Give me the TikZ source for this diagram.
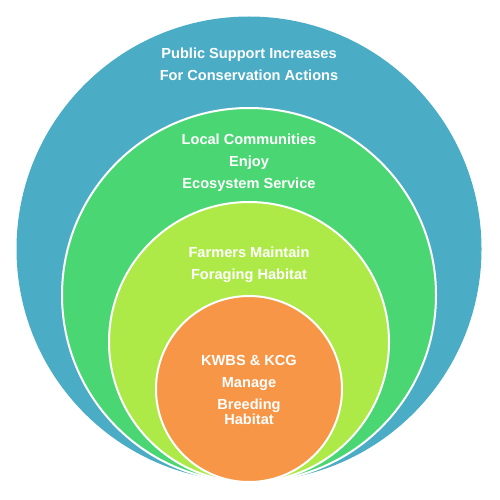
\documentclass[tikz,border=0pt]{standalone}
\usepackage{fontspec}
\setmainfont{Liberation Sans}
\definecolor{cblue}{HTML}{4BACC6}
\definecolor{cgreen}{HTML}{4AD673}
\definecolor{clime}{HTML}{AEEA47}
\definecolor{corange}{HTML}{F79646}
\begin{document}
\begin{tikzpicture}[x=1pt,y=-1pt,
  ring/.style={draw=white,line width=2pt},
  lbl/.style={text=white,font=\fontsize{14.6}{15.5}\selectfont\bfseries,align=center,inner sep=0pt}]
\useasboundingbox (0,0) rectangle (500,500);
\fill[cblue] (249,249) circle[radius=232.5];
\filldraw[ring,fill=cgreen] (249,295) circle[radius=187];
\filldraw[ring,fill=clime] (249,342) circle[radius=140];
\filldraw[ring,fill=corange] (249,389) circle[radius=93];
\node[lbl] (outer) at (249,64) {Public Support Increases\\[6.3pt]For Conservation Actions};
\node[lbl] (community) at (249,162.5) {Local Communities\\[6.3pt]Enjoy\\[6.3pt]Ecosystem Service};
\node[lbl] (farmers) at (249,264.5) {Farmers Maintain\\[6.3pt]Foraging Habitat};
\node[lbl] (kwbs) at (249,390) {KWBS \& KCG\\[6.3pt]Manage\\[6.3pt]Breeding\\Habitat};
\end{tikzpicture}
\end{document}
